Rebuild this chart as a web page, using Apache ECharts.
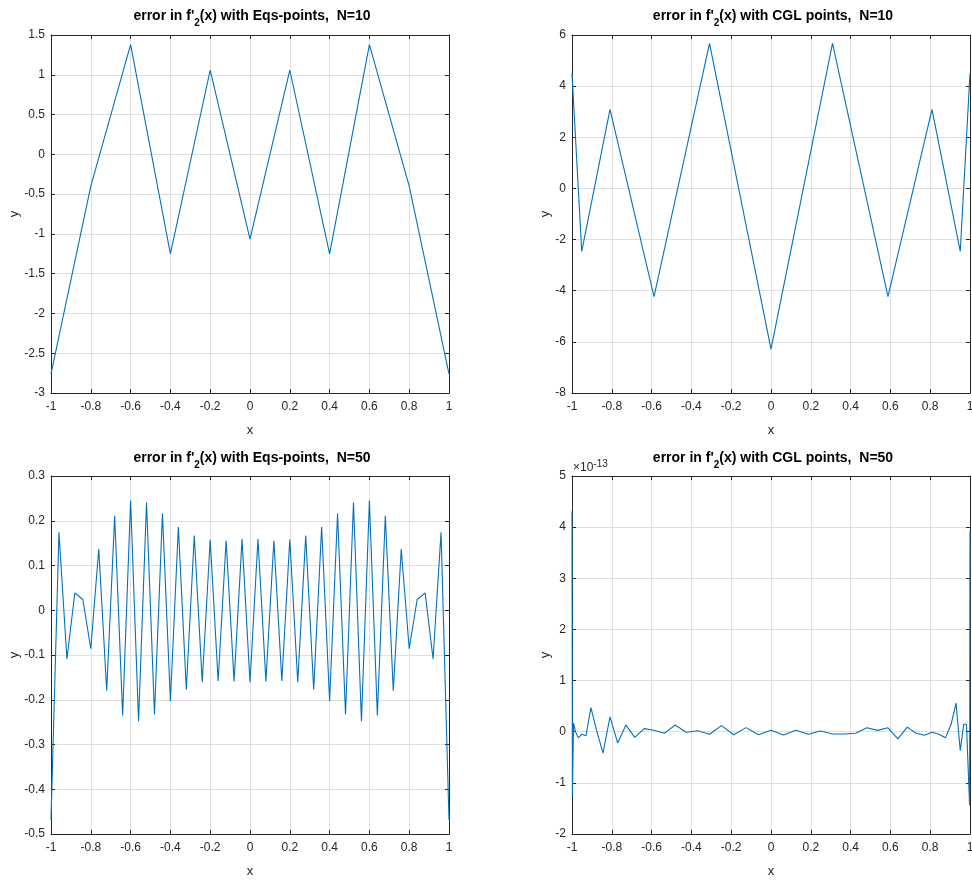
<!DOCTYPE html>
<html>
<head>
<meta charset="utf-8">
<title>error in f'2(x)</title>
<script src="https://cdn.jsdelivr.net/npm/echarts@6/dist/echarts.min.js"></script>
<style>
  html, body { margin: 0; padding: 0; background: #fff; }
  #chart { width: 972px; height: 880px; }
</style>
</head>
<body>
<div id="chart"></div>
<script>
'use strict';

// nodes and errors
var eqsX10 = [-1, -0.8, -0.6, -0.4, -0.2, 0, 0.2, 0.4, 0.6, 0.8, 1];
var eqsErr10 = [-2.76, -0.40, 1.38, -1.25, 1.06, -1.065, 1.06, -1.25, 1.38, -0.40, -2.76];

var cglX10 = [-1, -0.9511, -0.8090, -0.5878, -0.3090, 0, 0.3090, 0.5878, 0.8090, 0.9511, 1];
var cglErr10 = [4.5, -2.46, 3.09, -4.23, 5.67, -6.28, 5.67, -4.23, 3.09, -2.46, 4.5];

var eqsX50 = [-1, -0.96, -0.92, -0.88, -0.84, -0.8, -0.76, -0.72, -0.68, -0.64, -0.6,
  -0.56, -0.52, -0.48, -0.44, -0.4, -0.36, -0.32, -0.28, -0.24, -0.2, -0.16, -0.12,
  -0.08, -0.04, 0, 0.04, 0.08, 0.12, 0.16, 0.2, 0.24, 0.28, 0.32, 0.36, 0.4, 0.44,
  0.48, 0.52, 0.56, 0.6, 0.64, 0.68, 0.72, 0.76, 0.8, 0.84, 0.88, 0.92, 0.96, 1];
var eqsErr50 = [-0.468, 0.174, -0.109, 0.039, 0.024, -0.086, 0.137, -0.180, 0.211, -0.235, 0.245,
  -0.248, 0.241, -0.233, 0.216, -0.203, 0.186, -0.177, 0.167, -0.161, 0.158, -0.158, 0.156,
  -0.159, 0.159, -0.161, 0.159, -0.159, 0.156, -0.158, 0.158, -0.161, 0.167, -0.177, 0.186, -0.203, 0.216,
  -0.233, 0.241, -0.248, 0.245, -0.235, 0.211, -0.180, 0.137, -0.086, 0.024, 0.039, -0.109, 0.174, -0.468];

var cglX50 = [-1, -0.9980, -0.9921, -0.9823, -0.9686, -0.9511, -0.9298, -0.9048, -0.8763, -0.8443,
  -0.8090, -0.7705, -0.7290, -0.6845, -0.6374, -0.5878, -0.5358, -0.4818, -0.4258, -0.3681,
  -0.3090, -0.2487, -0.1874, -0.1253, -0.0628, 0, 0.0628, 0.1253, 0.1874, 0.2487, 0.3090,
  0.3681, 0.4258, 0.4818, 0.5358, 0.5878, 0.6374, 0.6845, 0.7290, 0.7705, 0.8090, 0.8443,
  0.8763, 0.9048, 0.9298, 0.9511, 0.9686, 0.9823, 0.9921, 0.9980, 1];
// in units of 1e-13
var cglErr50 = [4.31, -1.24, 0.17, 0.0, -0.12, -0.05, -0.08, 0.47, 0.02, -0.42,
  0.29, -0.22, 0.13, -0.11, 0.06, 0.03, -0.03, 0.13, -0.01, 0.02,
  -0.05, 0.12, -0.06, 0.08, -0.06, 0.03, -0.065, 0.03, -0.05, 0.013, -0.045,
  -0.045, -0.03, 0.077, 0.026, 0.077, -0.14, 0.09, -0.03, -0.07, -0.01, -0.05,
  -0.12, 0.14, 0.56, -0.37, 0.15, 0.14, 0.12, -1.44, 3.92];

var titles = [
  "{t|error in f'}{s|2}{t|(x) with Eqs-points,  N=10}",
  "{t|error in f'}{s|2}{t|(x) with CGL points,  N=10}",
  "{t|error in f'}{s|2}{t|(x) with Eqs-points,  N=50}",
  "{t|error in f'}{s|2}{t|(x) with CGL points,  N=50}"
];

var FONT = 'Liberation Sans, Arial, Helvetica, sans-serif';
var INK = '#262626';

var panels = [
  { x: eqsX10, y: eqsErr10, min: -3, max: 1.5, step: 0.5, left: 51, top: 35, gap: 30, tTop: 4 },
  { x: cglX10, y: cglErr10, min: -8, max: 6, step: 2, left: 572, top: 35, gap: 20, tTop: 4 },
  { x: eqsX50, y: eqsErr50, min: -0.5, max: 0.3, step: 0.1, left: 51, top: 476, gap: 30, tTop: 446 },
  { x: cglX50, y: cglErr50, min: -2, max: 5, step: 1, left: 572, top: 476, gap: 20, tTop: 446 }
];

function zip(xs, ys) {
  return xs.map(function (v, i) { return [v, ys[i]]; });
}

var grid = [], xAxis = [], yAxis = [], series = [], title = [];

panels.forEach(function (p, i) {
  // keep the plot boxes where they are, labels may touch the page edge
  grid.push({ left: p.left, top: p.top, width: 398, height: 358, outerBoundsMode: 'none', containLabel: false });

  var base = {
    gridIndex: i,
    type: 'value',
    axisLine: { show: true, onZero: false, lineStyle: { color: INK, width: 1 } },
    axisTick: { show: true, inside: true, length: 4, lineStyle: { color: INK } }
  };

  xAxis.push(Object.assign({}, base, {
    position: 'bottom', min: -1, max: 1, interval: 0.2,
    name: 'x', nameLocation: 'middle', nameGap: 31,
    nameTextStyle: { color: INK, fontFamily: FONT, fontSize: 13 },
    axisLabel: { color: INK, fontFamily: FONT, fontSize: 12, margin: 8 },
    splitLine: { show: true, lineStyle: { color: '#e0e0e0', width: 1 } }
  }));
  xAxis.push(Object.assign({}, base, {
    position: 'top', min: -1, max: 1, interval: 0.2,
    axisLabel: { show: false }, splitLine: { show: false }
  }));

  yAxis.push(Object.assign({}, base, {
    position: 'left', min: p.min, max: p.max, interval: p.step,
    name: 'y', nameLocation: 'middle', nameGap: p.gap,
    nameTextStyle: { color: INK, fontFamily: FONT, fontSize: 13 },
    axisLabel: { color: INK, fontFamily: FONT, fontSize: 12, margin: 6 },
    splitLine: { show: true, lineStyle: { color: '#e0e0e0', width: 1 } }
  }));
  yAxis.push(Object.assign({}, base, {
    position: 'right', min: p.min, max: p.max, interval: p.step,
    axisLabel: { show: false }, splitLine: { show: false }
  }));

  series.push({
    type: 'line',
    xAxisIndex: 2 * i,
    yAxisIndex: 2 * i,
    data: zip(p.x, p.y),
    showSymbol: false,
    clip: true,
    lineStyle: { color: '#0072BD', width: 1.1 },
    z: 3
  });

  title.push({
    text: titles[i],
    left: p.left + 201,
    top: p.tTop,
    textAlign: 'center',
    padding: 0,
    textStyle: {
      rich: {
        t: { fontFamily: FONT, fontSize: 14, fontWeight: 'bold', color: '#000' },
        s: { fontFamily: FONT, fontSize: 10, fontWeight: 'bold', color: '#000', padding: [14, 0, 0, 0] }
      }
    }
  });
});

// exponent of the last panel
title.push({
  text: '{b|\u00d710}{p|-13}',
  left: 573,
  top: 459,
  padding: 0,
  textStyle: {
    fontWeight: 'normal',
    rich: {
      b: { fontFamily: FONT, fontSize: 12, fontWeight: 'normal', color: INK },
      p: { fontFamily: FONT, fontSize: 10, fontWeight: 'normal', color: INK, padding: [0, 0, 8, 0] }
    }
  }
});

var chart = echarts.init(document.getElementById('chart'), null, { renderer: 'canvas' });
chart.setOption({
  animation: false,
  backgroundColor: '#fff',
  title: title,
  grid: grid,
  xAxis: xAxis,
  yAxis: yAxis,
  series: series
});
</script>
</body>
</html>
